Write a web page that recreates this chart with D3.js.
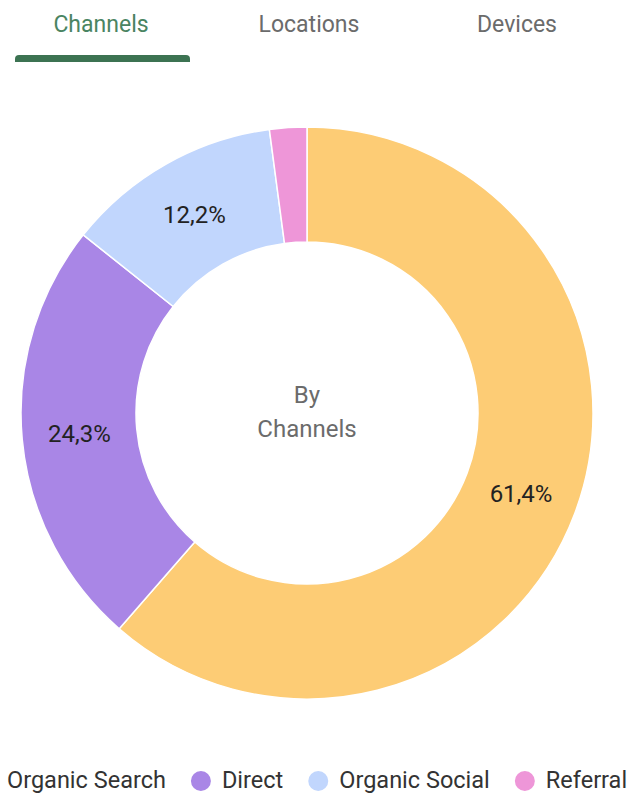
<!DOCTYPE html>
<html>
<head>
<meta charset="utf-8">
<script src="https://cdn.jsdelivr.net/npm/d3@7"></script>
<style>
  body { margin: 0; background: #fff; font-family: Roboto, "Liberation Sans", Arial, sans-serif; }
  svg { display: block; }
</style>
</head>
<body>
<div id="chart"></div>
<script>
// data
var tabs = ["Channels", "Locations", "Devices"];
var channels = ["Organic Search", "Direct", "Organic Social", "Referral"];
var shares = [61.4, 24.3, 12.2, 2.1];
var colors = ["#fdcc75", "#a986e6", "#c1d6fd", "#ee96d8"];
var centerText = ["By", "Channels"];

var width = 630, height = 796;

var svg = d3.select("#chart").append("svg")
    .attr("width", width)
    .attr("height", height);

// tabs
var tabScale = d3.scaleBand().domain(tabs).range([-3, 621]);

svg.selectAll(".tab")
    .data(tabs)
    .enter().append("text")
    .attr("class", "tab")
    .attr("x", function(d) { return tabScale(d) + tabScale.bandwidth() / 2; })
    .attr("y", 32)
    .attr("text-anchor", "middle")
    .attr("font-size", "23px")
    .attr("fill", function(d, i) { return i === 0 ? "#4a8462" : "#6b6b6b"; })
    .text(function(d) { return d; });

// active tab underline (rounded top corners)
var ux0 = 15, ux1 = 190, uy0 = 55, uy1 = 62, ur = 4;
svg.append("path")
    .attr("d", "M" + ux0 + "," + uy1 + " L" + ux0 + "," + (uy0 + ur) +
        " Q" + ux0 + "," + uy0 + " " + (ux0 + ur) + "," + uy0 +
        " L" + (ux1 - ur) + "," + uy0 +
        " Q" + ux1 + "," + uy0 + " " + ux1 + "," + (uy0 + ur) +
        " L" + ux1 + "," + uy1 + " Z")
    .attr("fill", "#3c7352");

// donut
var cx = 307, cy = 413, outerR = 286, innerR = 171;

var g = svg.append("g")
    .attr("transform", "translate(" + cx + "," + cy + ")");

var pie = d3.pie().sort(null).value(function(d) { return d; });
var arc = d3.arc().innerRadius(innerR).outerRadius(outerR);

var arcs = pie(shares);

g.selectAll(".slice")
    .data(arcs)
    .enter().append("path")
    .attr("class", "slice")
    .attr("d", arc)
    .attr("fill", function(d, i) { return colors[i]; })
    .attr("stroke", "#fff")
    .attr("stroke-width", 1.5);

var fmt = function(v) { return d3.format(".1f")(v).replace(".", ",") + "%"; };

g.selectAll(".label")
    .data(arcs.filter(function(d) { return d.data >= 5; }))
    .enter().append("text")
    .attr("class", "label")
    .attr("transform", function(d) { return "translate(" + arc.centroid(d) + ")"; })
    .attr("text-anchor", "middle")
    .attr("dy", "0.35em")
    .attr("font-size", "24px")
    .attr("fill", "#222")
    .text(function(d) { return fmt(d.data); });

g.selectAll(".center")
    .data(centerText)
    .enter().append("text")
    .attr("class", "center")
    .attr("x", 0)
    .attr("y", function(d, i) { return -18 + i * 34; })
    .attr("dy", "0.35em")
    .attr("text-anchor", "middle")
    .attr("font-size", "24px")
    .attr("fill", "#6b6b6b")
    .text(function(d) { return d; });

// legend
var legend = svg.append("g").attr("transform", "translate(0,781)");
var x = 7 - 21; // first text starts at 7, its dot is off the left edge
channels.forEach(function(name, i) {
    var item = legend.append("g");
    item.append("circle")
        .attr("cx", x)
        .attr("cy", 0)
        .attr("r", 10)
        .attr("fill", colors[i]);
    var t = item.append("text")
        .attr("x", x + 21)
        .attr("y", 7)
        .attr("font-size", "23.5px")
        .attr("fill", "#333")
        .text(name);
    var w = t.node().getComputedTextLength();
    x = x + 21 + w + 35;
});
</script>
</body>
</html>
